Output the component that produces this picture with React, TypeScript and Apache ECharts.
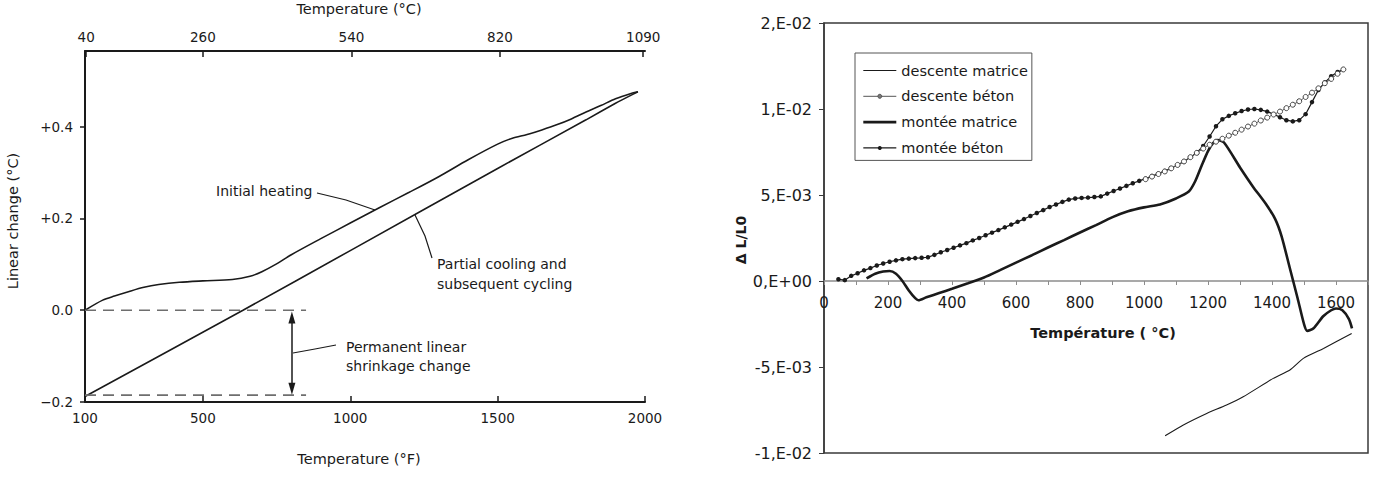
import React, { useEffect, useRef } from "react";
import * as echarts from "echarts";

const FONT = "'DejaVu Sans', 'Liberation Sans', sans-serif";
const INK = "#1a1a1a";

// ---------- Left chart: linear change vs temperature ----------
const F_MIN = 100;
const F_MAX = 2000;
const bottomTicksF = [100, 500, 1000, 1500, 2000];
const topTicksC = [40, 260, 540, 820, 1090];
const leftYTicks = [-0.2, 0, 0.2, 0.4];
const leftYTickLabels = ["\u22120.2", "0.0", "+0.2", "+0.4"];

const initialHeating: [number, number][] = [
  [100, 0.0], [160, 0.022], [200, 0.031], [250, 0.041], [300, 0.05], [350, 0.056],
  [420, 0.061], [500, 0.064], [600, 0.067], [660, 0.074], [700, 0.084], [750, 0.101],
  [800, 0.121], [900, 0.156], [1000, 0.19], [1100, 0.224], [1200, 0.257], [1300, 0.291],
  [1400, 0.328], [1500, 0.362], [1550, 0.375], [1600, 0.383], [1650, 0.393], [1700, 0.404],
  [1750, 0.417], [1800, 0.432], [1850, 0.446], [1900, 0.461], [1950, 0.472], [1976, 0.476],
];
const partialCooling: [number, number][] = [
  [100, -0.188], [636, 0.0], [1000, 0.13], [1500, 0.309], [1800, 0.415],
  [1900, 0.451], [1960, 0.471], [1976, 0.476],
];
const zeroLevel: [number, number][] = [[100, 0], [850, 0]];
const shrinkLevel: [number, number][] = [[100, -0.185], [850, -0.185]];
const arrowF = 802;
const arrowEnds = [-0.171, -0.016];

// ---------- Right chart: ΔL/L0 vs Température ----------
const X_MAX_RIGHT = 1700;
const Y_MIN_RIGHT = -0.01;
const Y_MAX_RIGHT = 0.015;
const rightYTicks = [-0.01, -0.005, 0, 0.005, 0.01, 0.015];
const rightYTickLabels = ["-1,E-02", "-5,E-03", "0,E+00", "5,E-03", "1,E-02", "2,E-02"];
const legendOrder = ["descente matrice", "descente b\u00e9ton", "mont\u00e9e matrice", "mont\u00e9e b\u00e9ton"];

const descenteMatrice: [number, number][] = [
  [1066, -9.0e-3], [1123, -8.37e-3], [1196, -7.7e-3], [1258, -7.21e-3], [1310, -6.73e-3],
  [1404, -5.66e-3], [1456, -5.17e-3], [1498, -4.5e-3], [1561, -3.92e-3], [1649, -3.05e-3],
];

const descenteBeton: [number, number][] = [
  [1623, 12.3e-3], [1605, 12.05e-3], [1585, 11.75e-3], [1565, 11.5e-3], [1545, 11.2e-3],
  [1525, 10.95e-3], [1505, 10.7e-3], [1485, 10.45e-3], [1465, 10.25e-3], [1445, 10.05e-3],
  [1425, 9.85e-3], [1405, 9.68e-3], [1385, 9.5e-3], [1365, 9.33e-3], [1345, 9.15e-3],
  [1325, 8.98e-3], [1305, 8.8e-3], [1285, 8.62e-3], [1265, 8.45e-3], [1245, 8.27e-3],
  [1225, 8.1e-3], [1205, 7.92e-3], [1185, 7.7e-3], [1165, 7.45e-3], [1145, 7.2e-3],
  [1125, 6.95e-3], [1105, 6.75e-3], [1085, 6.55e-3], [1065, 6.37e-3], [1045, 6.22e-3],
  [1025, 6.07e-3], [1005, 5.92e-3],
];

const monteeMatrice: [number, number][] = [
  [133, 0.15e-3], [160, 0.42e-3], [185, 0.55e-3], [205, 0.58e-3], [225, 0.42e-3],
  [245, 0.0], [265, -0.55e-3], [285, -1.0e-3], [295, -1.12e-3], [320, -0.95e-3],
  [360, -0.7e-3], [400, -0.45e-3], [450, -0.13e-3], [500, 0.2e-3], [550, 0.63e-3],
  [600, 1.07e-3], [650, 1.5e-3], [700, 1.95e-3], [750, 2.38e-3], [800, 2.82e-3],
  [850, 3.25e-3], [900, 3.7e-3], [950, 4.05e-3], [1000, 4.28e-3], [1050, 4.45e-3],
  [1100, 4.8e-3], [1140, 5.2e-3], [1160, 5.8e-3], [1180, 6.7e-3], [1200, 7.55e-3],
  [1215, 8.0e-3], [1230, 8.2e-3], [1250, 8.05e-3], [1300, 6.6e-3], [1340, 5.5e-3],
  [1380, 4.5e-3], [1410, 3.6e-3], [1430, 2.6e-3], [1455, 0.8e-3], [1480, -1.0e-3],
  [1500, -2.5e-3], [1510, -2.9e-3], [1530, -2.75e-3], [1560, -2.05e-3], [1585, -1.7e-3],
  [1600, -1.6e-3], [1620, -1.7e-3], [1640, -2.2e-3], [1650, -2.75e-3],
];

const monteeBeton: [number, number][] = [
  [45, 0.1e-3], [65, 0.05e-3], [85, 0.3e-3], [105, 0.45e-3], [125, 0.62e-3], [145, 0.75e-3],
  [165, 0.9e-3], [185, 1.02e-3], [205, 1.12e-3], [225, 1.2e-3], [245, 1.27e-3], [265, 1.3e-3],
  [285, 1.33e-3], [305, 1.35e-3], [325, 1.38e-3], [345, 1.52e-3], [365, 1.67e-3], [385, 1.8e-3],
  [405, 1.93e-3], [425, 2.07e-3], [445, 2.2e-3], [465, 2.36e-3], [485, 2.5e-3], [505, 2.66e-3],
  [525, 2.81e-3], [545, 2.96e-3], [565, 3.12e-3], [585, 3.28e-3], [605, 3.44e-3], [625, 3.6e-3],
  [645, 3.78e-3], [665, 3.95e-3], [685, 4.12e-3], [705, 4.3e-3], [725, 4.45e-3], [745, 4.6e-3],
  [765, 4.73e-3], [785, 4.8e-3], [805, 4.83e-3], [825, 4.85e-3], [845, 4.88e-3], [865, 4.92e-3],
  [885, 5.08e-3], [905, 5.23e-3], [925, 5.38e-3], [945, 5.53e-3], [965, 5.68e-3], [985, 5.82e-3],
  [1005, 5.95e-3], [1025, 6.1e-3], [1045, 6.24e-3], [1065, 6.4e-3], [1085, 6.55e-3], [1105, 6.74e-3],
  [1125, 6.95e-3], [1145, 7.2e-3], [1165, 7.46e-3], [1185, 7.85e-3], [1205, 8.4e-3], [1225, 9.0e-3],
  [1245, 9.4e-3], [1265, 9.6e-3], [1285, 9.75e-3], [1305, 9.88e-3], [1325, 9.97e-3], [1345, 10.0e-3],
  [1365, 9.95e-3], [1385, 9.85e-3], [1405, 9.7e-3], [1425, 9.52e-3], [1445, 9.35e-3], [1465, 9.28e-3],
  [1485, 9.35e-3], [1505, 9.7e-3], [1525, 10.4e-3], [1545, 11.1e-3], [1565, 11.55e-3], [1585, 11.9e-3],
  [1605, 12.15e-3], [1623, 12.3e-3],
];

const fToC = (f: number) => ((f - 32) * 5) / 9;

const lookup = (ticks: number[], labels: string[], tol: number) => (v: number) => {
  const i = ticks.findIndex((t) => Math.abs(t - v) < tol);
  return i >= 0 ? labels[i] : "";
};

const txt = (
  x: number, y: number, text: string,
  o: { size?: number; weight?: string; align?: string; rot?: number } = {}
) => ({
  type: "text",
  x, y,
  rotation: o.rot || 0,
  silent: true,
  style: {
    text,
    fontSize: o.size || 14,
    fontWeight: o.weight || "normal",
    fontFamily: FONT,
    fill: INK,
    textAlign: o.align || "left",
    textVerticalAlign: "middle",
    align: o.align || "left",
    verticalAlign: "middle",
  },
});

const leader = (pts: number[][]) => ({
  type: "polyline",
  silent: true,
  shape: { points: pts },
  style: { stroke: INK, lineWidth: 1.2, fill: null },
});

// right grid geometry (pixels)
const RG = { left: 824, top: 23, width: 544, height: 430 };

export default function App() {
  const ref = useRef<HTMLDivElement>(null);
  useEffect(() => {
    if (!ref.current) return;
    const chart = echarts.init(ref.current, undefined, { renderer: "svg" });
    const leftAxisLine = { show: true, onZero: false, lineStyle: { color: INK, width: 2 } };
    const leftLabel = { fontSize: 13.5, color: INK, fontFamily: FONT };
    const rightLabel = { fontSize: 15, color: INK, fontFamily: FONT };
    // place the right x axis on the value 0 of the right y axis
    const zeroOffset = -(RG.height * (0 - Y_MIN_RIGHT)) / (Y_MAX_RIGHT - Y_MIN_RIGHT);

    chart.setOption({
      animation: false,
      backgroundColor: "#ffffff",
      textStyle: { fontFamily: FONT },
      grid: [
        { left: 85, top: 51, width: 560, height: 351 },
        {
          ...RG, show: true,
          borderColor: "#3a3a3a", borderWidth: 1.5, backgroundColor: "transparent",
        },
      ],
      legend: {
        show: true,
        orient: "vertical",
        left: 855,
        top: 53,
        padding: [10, 4, 5, 7],
        itemWidth: 33,
        itemHeight: 5,
        itemGap: 10.8,
        borderColor: "#555",
        borderWidth: 1,
        backgroundColor: "#fff",
        selectedMode: false,
        textStyle: { fontSize: 14.5, color: INK, fontFamily: FONT },
        data: [
          { name: legendOrder[0], itemStyle: { opacity: 0 }, lineStyle: { width: 1.1, color: INK } },
          { name: legendOrder[1], itemStyle: { color: "#777", borderColor: "#555", borderWidth: 1 }, lineStyle: { width: 1, color: "#555" } },
          { name: legendOrder[2], itemStyle: { opacity: 0 }, lineStyle: { width: 2.6, color: INK } },
          { name: legendOrder[3], lineStyle: { width: 1.2, color: INK } },
        ],
      },
      xAxis: [
        {
          type: "value", gridIndex: 0, position: "bottom", min: F_MIN, max: F_MAX,
          axisLine: leftAxisLine,
          axisTick: { show: true, inside: true, length: 6, customValues: bottomTicksF, lineStyle: { color: INK, width: 1.5 } },
          axisLabel: { show: true, customValues: bottomTicksF, margin: 9, ...leftLabel, formatter: (v: number) => String(v) },
          splitLine: { show: false },
        },
        {
          type: "value", gridIndex: 0, position: "top", min: fToC(F_MIN), max: fToC(F_MAX),
          axisLine: leftAxisLine,
          axisTick: { show: true, inside: true, length: 6, customValues: topTicksC, lineStyle: { color: INK, width: 1.5 } },
          axisLabel: { show: true, customValues: topTicksC, margin: 7, ...leftLabel, formatter: (v: number) => String(v) },
          splitLine: { show: false },
        },
        {
          type: "value", gridIndex: 1, position: "bottom", offset: zeroOffset,
          min: 0, max: X_MAX_RIGHT, interval: 100,
          axisLine: { show: true, onZero: false, lineStyle: { color: "#8c8c8c", width: 1.5 } },
          axisTick: { show: true, length: 4, lineStyle: { color: "#8c8c8c", width: 1 } },
          axisLabel: {
            show: true, margin: 14, ...rightLabel,
            formatter: (v: number) => (Math.round(v) % 200 === 0 ? String(Math.round(v)) : ""),
          },
          splitLine: { show: false },
        },
      ],
      yAxis: [
        {
          type: "value", gridIndex: 0, min: -0.2, max: 0.565,
          axisLine: leftAxisLine,
          axisTick: { show: true, length: 5, customValues: leftYTicks, lineStyle: { color: INK, width: 1.5 } },
          axisLabel: {
            show: true, customValues: leftYTicks, margin: 12, ...leftLabel,
            formatter: lookup(leftYTicks, leftYTickLabels, 1e-6),
          },
          splitLine: { show: false },
        },
        {
          type: "value", gridIndex: 1, min: Y_MIN_RIGHT, max: Y_MAX_RIGHT, interval: 0.005,
          axisLine: { show: true, onZero: false, lineStyle: { color: "#3a3a3a", width: 1.5 } },
          axisTick: { show: true, length: 5, lineStyle: { color: "#3a3a3a", width: 1 } },
          axisLabel: {
            show: true, margin: 12, ...rightLabel, fontSize: 16,
            formatter: lookup(rightYTicks, rightYTickLabels, 1e-7),
          },
          splitLine: { show: false },
        },
      ],
      series: [
        {
          name: "Initial heating", type: "line", xAxisIndex: 0, yAxisIndex: 0,
          data: initialHeating, smooth: 0.3, symbol: "none", silent: true,
          lineStyle: { color: INK, width: 1.6 },
        },
        {
          name: "Partial cooling", type: "line", xAxisIndex: 0, yAxisIndex: 0,
          data: partialCooling, smooth: 0.2, symbol: "none", silent: true,
          lineStyle: { color: INK, width: 1.6 },
        },
        {
          name: "zero level", type: "line", xAxisIndex: 0, yAxisIndex: 0,
          data: zeroLevel, symbol: "none", silent: true,
          lineStyle: { color: "#6e6e6e", width: 1.6, type: [11, 7] },
          markLine: {
            silent: true,
            symbol: ["triangle", "triangle"],
            symbolSize: [7, 12],
            label: { show: false },
            lineStyle: { type: "solid", color: INK, width: 1.5 },
            data: [[{ coord: [arrowF, arrowEnds[0]] }, { coord: [arrowF, arrowEnds[1]] }]],
          },
        },
        {
          name: "shrink level", type: "line", xAxisIndex: 0, yAxisIndex: 0,
          data: shrinkLevel, symbol: "none", silent: true,
          lineStyle: { color: "#6e6e6e", width: 1.6, type: [11, 7] },
        },
        {
          name: "mont\u00e9e b\u00e9ton", type: "line", xAxisIndex: 2, yAxisIndex: 1,
          data: monteeBeton, symbol: "circle", symbolSize: 4.5, showAllSymbol: true,
          lineStyle: { color: INK, width: 1.2 },
          itemStyle: { color: INK },
        },
        {
          name: "mont\u00e9e matrice", type: "line", xAxisIndex: 2, yAxisIndex: 1,
          data: monteeMatrice, smooth: 0.25, symbol: "none",
          lineStyle: { color: INK, width: 2.6 },
          itemStyle: { color: INK },
        },
        {
          name: "descente matrice", type: "line", xAxisIndex: 2, yAxisIndex: 1,
          data: descenteMatrice, smooth: 0.2, symbol: "none",
          lineStyle: { color: INK, width: 1.1 },
          itemStyle: { color: INK },
        },
        {
          name: "descente b\u00e9ton", type: "line", xAxisIndex: 2, yAxisIndex: 1,
          data: descenteBeton, symbol: "circle", symbolSize: 5, showAllSymbol: true,
          lineStyle: { color: "#555", width: 1 },
          itemStyle: { color: "#ffffff", borderColor: "#444", borderWidth: 1 },
        },
      ],
      graphic: [
        txt(359, 9, "Temperature (\u00b0C)", { size: 14.5, align: "center" }),
        txt(359, 459, "Temperature (\u00b0F)", { size: 14.5, align: "center" }),
        txt(13, 221, "Linear change (\u00b0C)", { size: 14.5, align: "center", rot: Math.PI / 2 }),
        txt(216, 191, "Initial heating"),
        txt(437, 264, "Partial cooling and"),
        txt(437, 284, "subsequent cycling"),
        txt(346, 347, "Permanent linear"),
        txt(346, 366, "shrinkage change"),
        leader([[317, 193], [346, 200], [375, 210]]),
        leader([[415, 215], [425, 236], [432, 258]]),
        leader([[293, 353], [315, 349], [336, 345]]),
        txt(1103, 333, "Temp\u00e9rature ( \u00b0C)", { size: 14.5, weight: "bold", align: "center" }),
        txt(741, 240, "\u0394 L/L0", { size: 14, weight: "bold", align: "center", rot: Math.PI / 2 }),
      ],
    });
    return () => chart.dispose();
  }, []);

  return (
    <div
      ref={ref}
      style={{ position: "fixed", left: 0, top: 0, width: 1374, height: 486, background: "#fff" }}
    />
  );
}
